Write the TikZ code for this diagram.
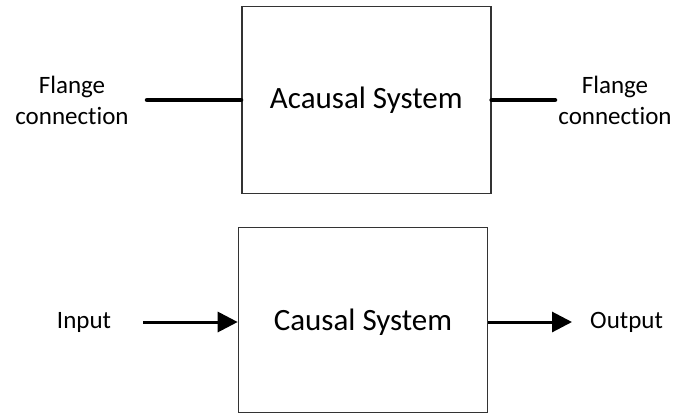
\documentclass[tikz,border=0pt]{standalone}
\usepackage{fontspec}
\setmainfont[Ligatures=NoCommon]{Carlito}
\usetikzlibrary{arrows.meta}
\begin{document}
\begin{tikzpicture}[x=1pt,y=1pt,
  sysbox/.style={draw=black!80,line width=1.6pt,inner sep=0pt,font=\fontsize{31}{36}\selectfont},
  lbl/.style={align=center,inner sep=0pt,font=\fontsize{25}{31}\selectfont},
  flange/.style={line width=4.5pt,line cap=round},
  sig/.style={line width=3pt,-{Triangle[length=20pt,width=20pt]}}]
\useasboundingbox (0,0) rectangle (676,-413);
\node[sysbox,minimum width=249pt,minimum height=187pt,text height=22.6pt,text depth=6pt] (acausal) at (366.3,-100) {Acausal System};
\node[sysbox,minimum width=249pt,minimum height=185pt,text height=27.4pt,text depth=6pt] (causal) at (363,-320) {Causal System};
\node[lbl] (fl) at (72,-100) {Flange\\connection};
\node[lbl] (fr) at (615,-100) {Flange\\connection};
\coordinate (fla) at (147,-100);
\coordinate (fra) at (555,-100);
\draw[flange] (fla) -- (acausal.west);
\draw[flange] (acausal.east) -- (fra);
\node[lbl,anchor=center] (in) at (84,-322) {Input};
\node[lbl,anchor=west] (out) at (590,-322) {Output};
\coordinate (ina) at (143,-322);
\coordinate (outa) at (572,-322);
\draw[sig] (ina) -- (ina -| causal.west);
\draw[sig] (outa -| causal.east) -- (outa);
\end{tikzpicture}
\end{document}
